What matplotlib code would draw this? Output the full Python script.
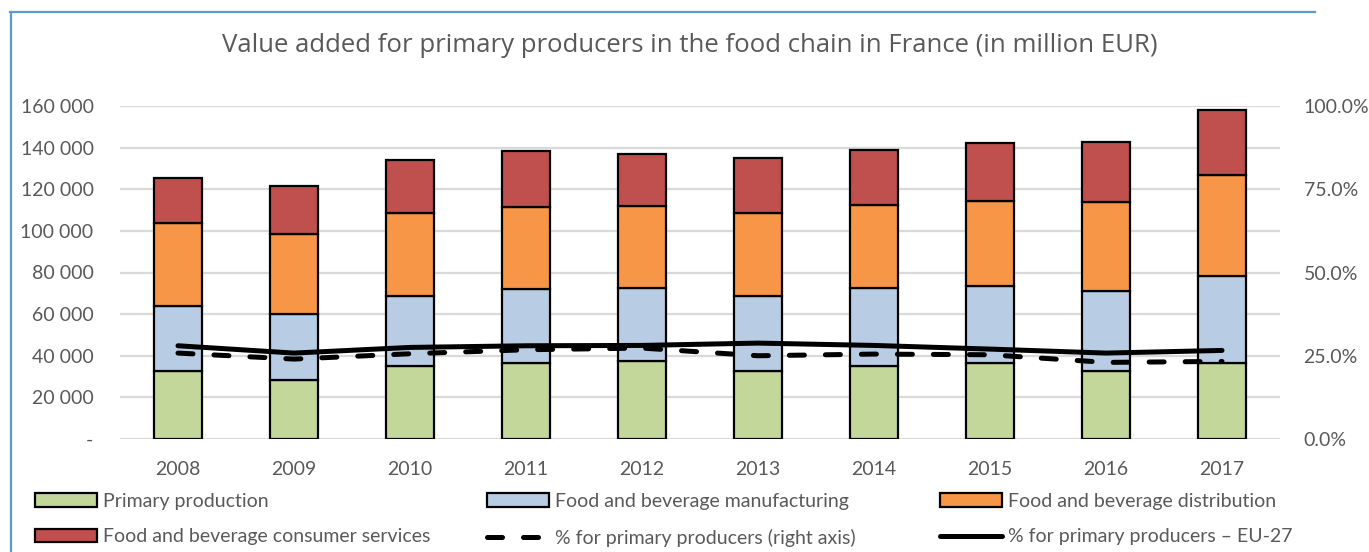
import matplotlib
matplotlib.use("Agg")
import matplotlib.pyplot as plt
from matplotlib.lines import Line2D
from matplotlib.patches import Patch
from matplotlib.ticker import FuncFormatter, FixedLocator
import numpy as np

years = ["2008", "2009", "2010", "2011", "2012", "2013", "2014", "2015", "2016", "2017"]
primary = [32500, 28500, 34900, 36500, 37300, 32900, 35300, 36500, 32900, 36500]
manufacturing = [31600, 31500, 33600, 35500, 35300, 35600, 37200, 37200, 38000, 42000]
distribution = [39600, 38600, 40000, 39400, 39400, 40000, 39700, 40700, 42900, 48200]
consumer = [21900, 23000, 25600, 27000, 25000, 26700, 26500, 28000, 29100, 31400]
pct_france = [25.8, 24.0, 25.6, 26.8, 27.3, 25.0, 25.5, 25.3, 23.0, 23.3]
pct_eu27 = [28.0, 25.8, 27.5, 28.0, 28.1, 28.8, 28.1, 27.0, 25.8, 26.6]

title = "Value added for primary producers in the food chain in France (in million EUR)"
labels = ["Primary production", "Food and beverage manufacturing",
          "Food and beverage distribution", "Food and beverage consumer services",
          "% for primary producers (right axis)", "% for primary producers \u2013 EU-27"]
colors = ["#C4D79B", "#B8CCE4", "#F79646", "#C0504D"]

FONT = ["Lato", "DejaVu Sans"]
plt.rcParams["font.family"] = FONT
TXT = "#595959"
W, H = 1369, 552
fig = plt.figure(figsize=(W / 100, H / 100), dpi=100)

L, R, T, B = 120, 1280, 106, 439
ax = fig.add_axes([L / W, 1 - B / H, (R - L) / W, (B - T) / H])
x = np.arange(len(years))
bw = 0.41
bottom = np.zeros(len(years))
series = [primary, manufacturing, distribution, consumer]
handles = []
for vals, c, lab in zip(series, colors, labels[:4]):
    ax.bar(x, vals, bw, bottom=bottom, color=c, edgecolor="black", linewidth=1.6, zorder=3)
    bottom += np.array(vals)
    handles.append(Patch(facecolor=c, edgecolor="black", linewidth=1.6, label=lab))

ax.set_xlim(-0.5, len(years) - 0.5)
ax.set_ylim(0, 160000)
ax.yaxis.set_major_locator(FixedLocator(np.arange(0, 160001, 20000)))
ax.yaxis.set_major_formatter(FuncFormatter(lambda v, p: "-" if v == 0 else f"{int(v):,}".replace(",", " ")))
ax.set_xticks(x)
ax.set_xticklabels(years)
ax.grid(axis="y", color="#D9D9D9", linewidth=1.6, zorder=0)
ax.set_axisbelow(True)
for s in ax.spines.values():
    s.set_visible(False)
ax.tick_params(axis="y", length=0, pad=19, labelsize=14, labelcolor=TXT)
ax.tick_params(axis="x", length=0, pad=16, labelsize=14, labelcolor=TXT)

ax2 = ax.twinx()
ax2.set_ylim(0, 100)
ax2.yaxis.set_major_locator(FixedLocator([0, 25, 50, 75, 100]))
ax2.yaxis.set_major_formatter(FuncFormatter(lambda v, p: f"{v:.1f}%"))
for s in ax2.spines.values():
    s.set_visible(False)
ax2.tick_params(axis="y", length=0, pad=17, labelsize=14, labelcolor=TXT)
l1, = ax2.plot(x, pct_france, color="black", linewidth=3.6, dashes=(3.0, 4.2),
               dash_capstyle="round", zorder=4, label=labels[4])
l2, = ax2.plot(x, pct_eu27, color="black", linewidth=3.6, solid_capstyle="round",
               zorder=4, label=labels[5])
handles += [l1, l2]

fig.text(690 / W, 1 - 45 / H, title, ha="center", va="center",
         fontsize=18.5, color=TXT, family=["Open Sans", "DejaVu Sans"])

cols = [(35, [handles[0], handles[3]]), (487, [handles[1], handles[4]]), (940, [handles[2], handles[5]])]
for xpos, hs in cols:
    leg = fig.legend(handles=hs, loc="upper left", bbox_to_anchor=(xpos / W, 1 - 493 / H),
                     frameon=False, fontsize=14, handlelength=3.2, handleheight=0.7,
                     handletextpad=0.3, labelspacing=0.95, borderpad=0, borderaxespad=0)
    for t in leg.get_texts():
        t.set_color(TXT)

frame_c = "#5B9BD5"
fig.add_artist(Line2D([10.5 / W, 10.5 / W], [0, 1 - 12 / H], color=frame_c, linewidth=1.6))
fig.add_artist(Line2D([10 / W, 1315 / W], [1 - 12 / H, 1 - 12 / H], color=frame_c, linewidth=1.6))

fig.savefig("out.png", dpi=100)
